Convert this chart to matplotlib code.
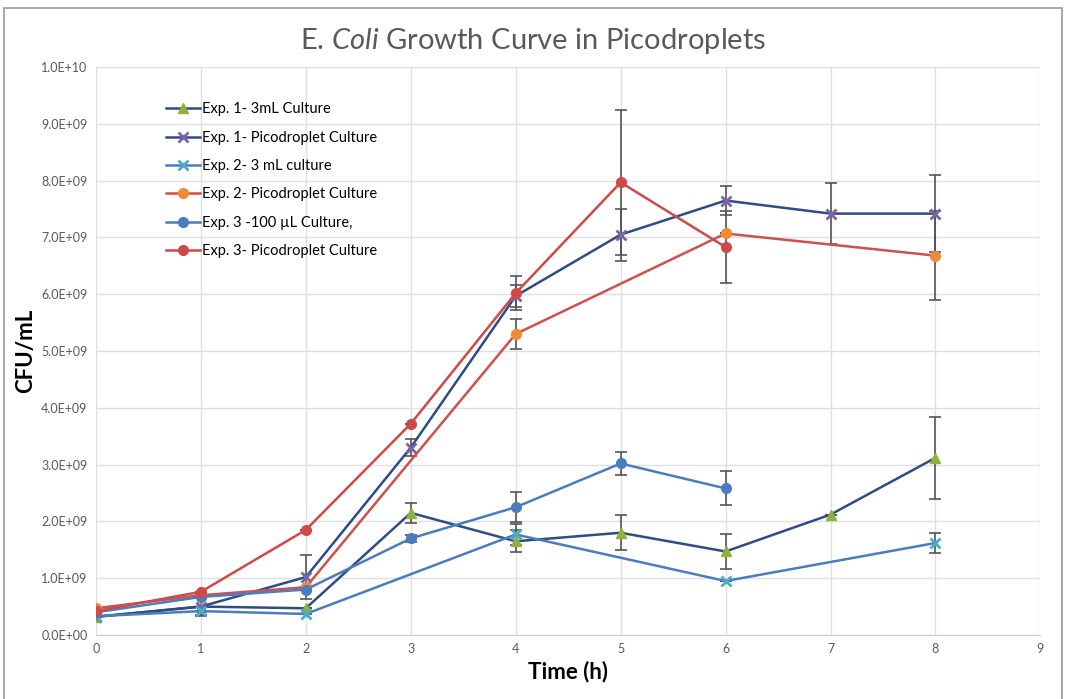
import matplotlib
matplotlib.use("Agg")
import matplotlib.pyplot as plt
from matplotlib.patches import Rectangle
from matplotlib.ticker import FuncFormatter, MultipleLocator

plt.rcParams["font.family"] = ["Lato", "DejaVu Sans"]
plt.rcParams["mathtext.fontset"] = "custom"
plt.rcParams["mathtext.it"] = "Lato:italic"
plt.rcParams["mathtext.rm"] = "Lato"

# values, in units of 1e9 CFU/mL
exp1_3ml_t = [0, 1, 2, 3, 4, 5, 6, 7, 8]
exp1_3ml_y = [0.32, 0.50, 0.47, 2.15, 1.65, 1.80, 1.47, 2.12, 3.12]
exp1_3ml_err = [0.0, 0.15, 0.0, 0.17, 0.19, 0.31, 0.30, 0.0, 0.72]

exp1_pico_t = [0, 1, 2, 3, 4, 5, 6, 7, 8]
exp1_pico_y = [0.32, 0.50, 1.02, 3.30, 5.97, 7.05, 7.65, 7.42, 7.42]
exp1_pico_err = [0.0, 0.0, 0.39, 0.15, 0.20, 0.46, 0.26, 0.54, 0.68]

exp2_3ml_t = [0, 1, 2, 4, 6, 8]
exp2_3ml_y = [0.33, 0.42, 0.37, 1.77, 0.95, 1.62]
exp2_3ml_err = [0.0, 0.08, 0.0, 0.18, 0.0, 0.18]

exp2_pico_t = [0, 1, 2, 4, 6, 8]
exp2_pico_y = [0.47, 0.70, 0.84, 5.30, 7.07, 6.68]
exp2_pico_err = [0.0, 0.0, 0.0, 0.26, 0.0, 0.78]

exp3_100_t = [0, 1, 2, 3, 4, 5, 6]
exp3_100_y = [0.40, 0.67, 0.80, 1.70, 2.25, 3.02, 2.58]
exp3_100_err = [0.0, 0.0, 0.0, 0.06, 0.26, 0.20, 0.30]

exp3_pico_t = [0, 1, 2, 3, 4, 5, 6]
exp3_pico_y = [0.42, 0.76, 1.85, 3.72, 6.02, 7.97, 6.83]
exp3_pico_err = [0.0, 0.0, 0.0, 0.0, 0.30, 1.28, 0.63]

series = [
    ("Exp. 1- 3mL Culture", exp1_3ml_t, exp1_3ml_y, exp1_3ml_err, "#2E4C86", "#8DB33A", "^"),
    ("Exp. 1- Picodroplet Culture", exp1_pico_t, exp1_pico_y, exp1_pico_err, "#2E4C86", "#7A64A8", "x"),
    ("Exp. 2- 3 mL culture", exp2_3ml_t, exp2_3ml_y, exp2_3ml_err, "#4A7CC0", "#4BACC6", "x"),
    ("Exp. 2- Picodroplet Culture", exp2_pico_t, exp2_pico_y, exp2_pico_err, "#D0504D", "#F08A33", "o"),
    ("Exp. 3 -100 \u00b5L Culture,", exp3_100_t, exp3_100_y, exp3_100_err, "#4A7CC0", "#4A7CC0", "o"),
    ("Exp. 3- Picodroplet Culture", exp3_pico_t, exp3_pico_y, exp3_pico_err, "#CF4A47", "#CF4A47", "o"),
]

fig = plt.figure(figsize=(10.66, 6.99), dpi=100)
ax = fig.add_axes([0.090, 0.0916, 0.886, 0.8124])

for label, t, y, err, lc, mc, m in series:
    yv = [v * 1e9 for v in y]
    ev = [e * 1e9 for e in err]
    ax.errorbar(t, yv, yerr=ev, fmt="none", ecolor="#555555", elinewidth=1.2,
                capsize=4, capthick=1.2, zorder=2)
    mew = 2 if m == "x" else 1
    ax.plot(t, yv, color=lc, lw=1.8, marker=m, ms=7, markerfacecolor=mc,
            markeredgecolor=mc, markeredgewidth=mew, label=label, zorder=3)

ax.set_xlim(0, 9)
ax.set_ylim(0, 1e10)
ax.xaxis.set_major_locator(MultipleLocator(1))
ax.yaxis.set_major_locator(MultipleLocator(1e9))
ax.yaxis.set_major_formatter(FuncFormatter(lambda v, p: f"{v:.1E}"))
ax.grid(True, color="#E0E0E0", lw=1)
ax.set_axisbelow(True)
for s in ax.spines.values():
    s.set_visible(False)
ax.spines["bottom"].set_visible(True)
ax.spines["bottom"].set_color("#D0D0D0")
ax.tick_params(length=0, labelsize=9, colors="#595959", pad=6)

ax.set_xlabel("Time (h)", fontsize=16, fontweight="bold", labelpad=4)
ax.set_ylabel("CFU/mL", fontsize=16, fontweight="bold", labelpad=4)

fig.text(0.5, 0.942, r"E. $\mathit{Coli}$ Growth Curve in Picodroplets",
         ha="center", va="center", fontsize=21, color="#595959")

leg = ax.legend(loc="upper left", bbox_to_anchor=(0.068, 0.948), frameon=False,
                fontsize=10.5, handlelength=2.3, handletextpad=0.2,
                labelspacing=0.98, borderaxespad=0)

fig.patches.append(Rectangle((0.004, -0.01), 0.992, 0.998, transform=fig.transFigure,
                             fill=False, edgecolor="#999999", lw=1.2))

fig.savefig("out.png", dpi=100)
